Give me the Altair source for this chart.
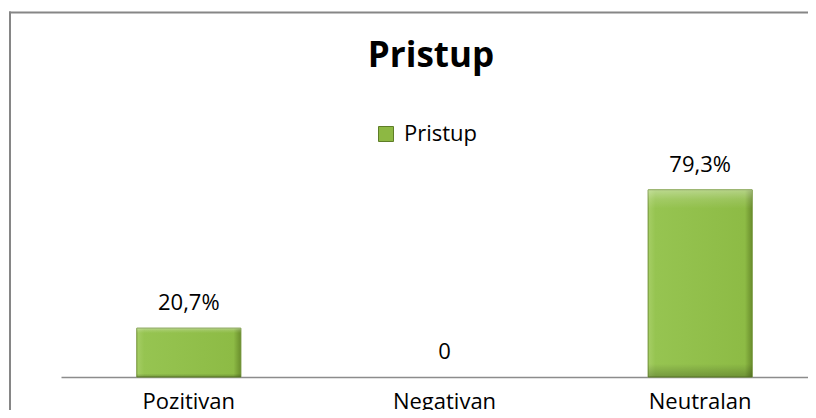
import altair as alt
import pandas as pd

categories = ["Pozitivan", "Negativan", "Neutralan"]
values = [20.7, 0.0, 79.3]
value_labels = ["20,7%", "0", "79,3%"]
series_name = "Pristup"
chart_title = "Pristup"

df = pd.DataFrame({
    "kategorija": categories,
    "vrijednost": values,
    "oznaka": value_labels,
    "serija": [series_name] * len(categories),
})

FONT = "Open Sans"

x_enc = alt.X(
    "kategorija:N",
    sort=categories,
    scale=alt.Scale(range=[0, 767], paddingInner=0.593, paddingOuter=0.2965),
    axis=alt.Axis(
        title=None, ticks=False, domainColor="#8C8C8C", domainWidth=1.5,
        labelFont=FONT, labelFontSize=22, labelColor="#000000",
        labelPadding=14, labelAngle=0,
    ),
)
y_enc = alt.Y("vrijednost:Q", scale=alt.Scale(domain=[0, 100]), axis=None)

grad_h = alt.Gradient(
    gradient="linear", x1=0, x2=1, y1=0, y2=0,
    stops=[
        alt.GradientStop(color="#A6CE66", offset=0),
        alt.GradientStop(color="#96C451", offset=0.07),
        alt.GradientStop(color="#8DBB45", offset=0.93),
        alt.GradientStop(color="#6A8E2C", offset=1),
    ],
)
grad_v = alt.Gradient(
    gradient="linear", x1=0, x2=0, y1=0, y2=1,
    stops=[
        alt.GradientStop(color="rgba(255,255,255,0.35)", offset=0),
        alt.GradientStop(color="rgba(255,255,255,0.12)", offset=0.05),
        alt.GradientStop(color="rgba(255,255,255,0)", offset=0.1),
        alt.GradientStop(color="rgba(0,0,0,0)", offset=0.93),
        alt.GradientStop(color="rgba(0,0,0,0.22)", offset=1),
    ],
)

base = alt.Chart(df)
frame_df = pd.DataFrame({"a": [0]})

border_top = alt.Chart(frame_df).mark_rule(color="#868686", strokeWidth=2).encode(
    x=alt.value(-52), x2=alt.value(747), y=alt.value(-128.5)
)
border_left = alt.Chart(frame_df).mark_rule(color="#868686", strokeWidth=2).encode(
    x=alt.value(-51), y=alt.value(-129.5), y2=alt.value(600)
)

nonzero = "datum.vrijednost > 0"
bars = base.mark_bar(fill=grad_h, stroke="#6B8E2E", strokeWidth=1).encode(
    x=x_enc, y=y_enc
).transform_filter(nonzero)
bevel = base.mark_bar(fill=grad_v).encode(x=x_enc, y=y_enc).transform_filter(nonzero)

labels = base.mark_text(
    dy=-18, baseline="alphabetic", font=FONT, fontSize=22, color="#000000"
).encode(x=x_enc, y=y_enc, text="oznaka:N")

legend_layer = base.mark_point(shape="square", filled=True, opacity=0).encode(
    x=x_enc, y=y_enc,
    color=alt.Color(
        "serija:N",
        scale=alt.Scale(range=["#8DB843"]),
        legend=alt.Legend(
            title=None, orient="none", legendX=314, legendY=-18,
            symbolType="square", symbolSize=225, symbolOpacity=1,
            symbolStrokeColor="#5E7D27", symbolStrokeWidth=1,
            labelFont=FONT, labelFontSize=22, labelColor="#000000",
            labelOffset=7, padding=0,
        ),
    ),
)

title = alt.Chart(pd.DataFrame({"t": [chart_title]})).mark_text(
    font=FONT, fontSize=35, fontWeight="bold", align="center",
    baseline="alphabetic", color="#000000"
).encode(text="t:N", x=alt.value(370), y=alt.value(-74))

chart = alt.layer(border_top, border_left, bars, bevel, labels, title, legend_layer).properties(
    width=747, height=236,
    autosize=alt.AutoSizeParams(type="none"),
    padding={"left": 53, "top": 133, "right": 0, "bottom": 33},
    background="#FFFFFF",
).configure_view(stroke=None)

chart.save("out.html", embed_options={"renderer": "svg", "actions": False})
